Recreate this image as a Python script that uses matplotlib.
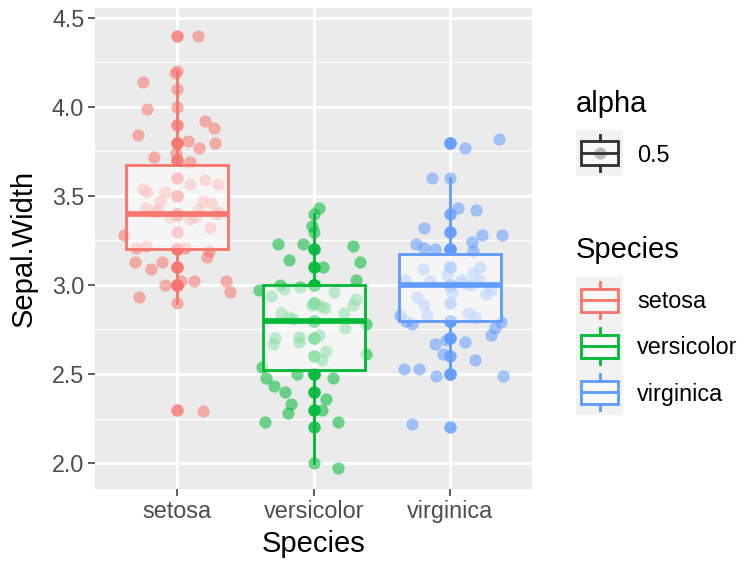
import numpy as np
import matplotlib.pyplot as plt
from matplotlib.patches import Rectangle

plt.rcParams['font.family'] = ['Liberation Sans', 'DejaVu Sans']

species = ['setosa', 'versicolor', 'virginica']
colors = ['#F8766D', '#00BA38', '#619CFF']

# iris Sepal.Width per species
setosa_width = [3.5, 3.0, 3.2, 3.1, 3.6, 3.9, 3.4, 3.4, 2.9, 3.1, 3.7, 3.4, 3.0, 3.0, 4.0, 4.4, 3.9,
                3.5, 3.8, 3.8, 3.4, 3.7, 3.6, 3.3, 3.4, 3.0, 3.4, 3.5, 3.4, 3.2, 3.1, 3.4, 4.1, 4.2,
                3.1, 3.2, 3.5, 3.6, 3.0, 3.4, 3.5, 2.3, 3.2, 3.5, 3.8, 3.0, 3.8, 3.2, 3.7, 3.3]
versicolor_width = [3.2, 3.2, 3.1, 2.3, 2.8, 2.8, 3.3, 2.4, 2.9, 2.7, 2.0, 3.0, 2.2, 2.9, 2.9, 3.1,
                    3.0, 2.7, 2.2, 2.5, 3.2, 2.8, 2.5, 2.8, 2.9, 3.0, 2.8, 3.0, 2.9, 2.6, 2.4, 2.4,
                    2.7, 2.7, 3.0, 3.4, 3.1, 2.3, 3.0, 2.5, 2.6, 3.0, 2.6, 2.3, 2.7, 3.0, 2.9, 2.9,
                    2.5, 2.8]
virginica_width = [3.3, 2.7, 3.0, 2.9, 3.0, 3.0, 2.5, 2.9, 2.5, 3.6, 3.2, 2.7, 3.0, 2.5, 2.8, 3.2,
                   3.0, 3.8, 2.6, 2.2, 3.2, 2.8, 2.8, 2.7, 3.3, 3.2, 2.8, 3.0, 2.8, 3.0, 2.8, 3.8,
                   2.8, 2.8, 2.6, 3.0, 3.4, 3.1, 3.0, 3.1, 3.1, 3.1, 2.7, 3.2, 3.3, 3.0, 2.5, 3.0,
                   3.4, 3.0]

# jittered copies: horizontal offset from the category and jittered value
setosa_dx = [0.15, -0.02, -0.25, -0.22, 0.20, 0.27, -0.29, 0.08, 0.28, 0.16, -0.17, -0.01, 0.09,
             0.09, 0.20, 0.30, -0.25, -0.22, -0.09, -0.13, 0.19, 0.25, -0.23, -0.15, 0.15, 0.30,
             -0.16, 0.00, 0.13, 0.29, -0.05, 0.09, 0.24, -0.39, -0.30, -0.23, 0.06, 0.23, 0.22,
             -0.31, -0.19, -0.11, 0.03, -0.09, 0.12, 0.36, 0.39, -0.28, 0.19]
setosa_dy = [4.40, 4.19, 4.14, 3.99, 3.92, 3.88, 3.84, 3.81, 3.80, 3.77, 3.72, 3.74, 3.69,
             3.57, 3.59, 3.57, 3.54, 3.52, 3.52, 3.47, 3.47, 3.46, 3.43, 3.42, 3.42, 3.41,
             3.41, 3.39, 3.38, 3.40, 3.38, 3.37, 3.32, 3.28, 3.21, 3.22, 3.21, 3.19, 3.16,
             3.13, 3.09, 3.13, 3.02, 3.00, 3.02, 3.02, 2.96, 2.93, 2.29]
versicolor_dx = [0.04, -0.01, -0.26, -0.08, 0.29, -0.18, 0.34, 0.07, 0.31, -0.25, -0.40, -0.31,
                 -0.22, -0.10, 0.15, 0.31, 0.29, -0.01, 0.08, 0.05, -0.24, -0.18, -0.15, 0.22,
                 0.38, -0.28, -0.30, -0.11, -0.11, 0.04, 0.23, 0.09, 0.06, 0.38, -0.38, -0.35,
                 -0.12, 0.14, -0.29, -0.21, 0.09, 0.06, -0.17, -0.19, -0.36, 0.18, 0.18]
versicolor_dy = [3.43, 3.33, 3.23, 3.23, 3.22, 3.14, 3.13, 3.10, 3.03, 3.00, 2.97, 2.94,
                 2.98, 2.99, 2.96, 2.92, 2.89, 2.89, 2.87, 2.88, 2.84, 2.82, 2.81, 2.84,
                 2.78, 2.70, 2.67, 2.71, 2.68, 2.72, 2.76, 2.63, 2.58, 2.61, 2.54, 2.48,
                 2.50, 2.48, 2.43, 2.40, 2.36, 2.30, 2.33, 2.28, 2.23, 2.23, 1.97]
virginica_dx = [0.11, 0.36, -0.13, 0.06, 0.19, -0.19, 0.23, 0.38, -0.25, -0.19, -0.11, 0.16,
                0.17, -0.20, -0.02, 0.22, 0.17, -0.33, -0.15, 0.08, 0.10, 0.15, 0.21, -0.24,
                0.26, 0.30, 0.01, -0.19, -0.37, -0.32, -0.28, -0.17, 0.13, 0.18, 0.37, 0.33,
                0.30, -0.03, -0.11, 0.11, -0.05, 0.18, -0.34, -0.23, -0.10, 0.39, -0.28]
virginica_dy = [3.77, 3.82, 3.60, 3.43, 3.42, 3.32, 3.28, 3.28, 3.23, 3.21, 3.20, 3.24,
                3.19, 3.09, 3.06, 3.10, 3.07, 3.03, 3.02, 3.03, 3.01, 3.00, 3.03, 2.93,
                2.95, 2.97, 2.96, 2.89, 2.83, 2.80, 2.78, 2.83, 2.84, 2.82, 2.79, 2.76,
                2.72, 2.69, 2.67, 2.68, 2.61, 2.58, 2.53, 2.53, 2.49, 2.49, 2.22]

y_ticks = [2.0, 2.5, 3.0, 3.5, 4.0, 4.5]
y_minor = [2.25, 2.75, 3.25, 3.75, 4.25]

values = [setosa_width, versicolor_width, virginica_width]
jitter = [(setosa_dx, setosa_dy), (versicolor_dx, versicolor_dy), (virginica_dx, virginica_dy)]

W, H = 743, 563
PT_SIZE = 78
ALPHA = 0.55
LW = 2.05


def frac(x0, y0, x1, y1):
    return [x0 / W, 1 - y1 / H, (x1 - x0) / W, (y1 - y0) / H]


fig = plt.figure(figsize=(W / 100, H / 100), dpi=100)
ax = fig.add_axes(frac(95.4, 8, 532, 489))
ax.set_facecolor('#EBEBEB')
for sp in ax.spines.values():
    sp.set_visible(False)
ax.set_xlim(0.4, 3.6)
ax.set_ylim(1.854, 4.556)
ax.set_xticks([1, 2, 3])
ax.set_xticklabels(species)
ax.set_yticks(y_ticks)
ax.set_yticklabels([f'{t:.1f}' for t in y_ticks])
ax.set_yticks(y_minor, minor=True)
ax.set_axisbelow(True)
ax.grid(which='major', color='white', lw=LW)
ax.grid(which='minor', axis='y', color='white', lw=1.0)
ax.tick_params(which='major', length=5, width=1.1, color='#333333',
               labelsize=16.8, labelcolor='#4D4D4D', pad=3)
ax.tick_params(which='minor', length=0)

for i, (vals, (dx, dy), col) in enumerate(zip(values, jitter, colors)):
    c = i + 1
    v = np.array(vals)
    ax.scatter(np.full(len(v), c), v, s=PT_SIZE, color=col, alpha=ALPHA,
               linewidths=0, zorder=2)
    ax.scatter(c + np.array(dx), dy, s=PT_SIZE, color=col, alpha=ALPHA,
               linewidths=0, zorder=2)

    q1, med, q3 = np.percentile(v, [25, 50, 75])
    iqr = q3 - q1
    lo = v[v >= q1 - 1.5 * iqr].min()
    hi = v[v <= q3 + 1.5 * iqr].max()
    out = v[(v < lo) | (v > hi)]
    ax.scatter(np.full(len(out), c), out, s=PT_SIZE, color=col, alpha=ALPHA,
               linewidths=0, zorder=2)

    ax.add_patch(Rectangle((c - 0.375, q1), 0.75, q3 - q1, facecolor=(1, 1, 1, ALPHA),
                           edgecolor=col, lw=LW, zorder=3))
    ax.plot([c, c], [q3, hi], color=col, lw=LW, zorder=3)
    ax.plot([c, c], [lo, q1], color=col, lw=LW, zorder=3)
    ax.plot([c - 0.375, c + 0.375], [med, med], color=col, lw=2 * LW,
            solid_capstyle='butt', zorder=4)

fig.text(23.5 / W, 1 - 248.5 / H, 'Sepal.Width', rotation=90, fontsize=21,
         ha='center', va='center')
fig.text(314 / W, 1 - 544 / H, 'Species', fontsize=21, ha='center', va='center')


def legend_key(y0, col, with_point=False):
    kx = fig.add_axes(frac(576, y0, 623, y0 + 46))
    kx.set_xlim(0, 1)
    kx.set_ylim(0, 1)
    kx.set_facecolor('#F2F2F2')
    kx.set_xticks([])
    kx.set_yticks([])
    for sp in kx.spines.values():
        sp.set_visible(False)
    if with_point:
        kx.scatter([0.5], [0.5], s=PT_SIZE, color='black', alpha=ALPHA, linewidths=0, zorder=1)
    kx.add_patch(Rectangle((0.1, 0.25), 0.8, 0.5, facecolor=(1, 1, 1, ALPHA),
                           edgecolor=col, lw=LW, zorder=2))
    kx.plot([0.5, 0.5], [0.75, 0.9], color=col, lw=LW, zorder=2)
    kx.plot([0.5, 0.5], [0.1, 0.25], color=col, lw=LW, zorder=2)
    kx.plot([0.1, 0.9], [0.5, 0.5], color=col, lw=LW, zorder=3)


fig.text(576 / W, 1 - 104 / H, 'alpha', fontsize=21, ha='left', va='center')
legend_key(130, '#333333', with_point=True)
fig.text(637 / W, 1 - 156 / H, '0.5', fontsize=16.8, ha='left', va='center')

fig.text(576 / W, 1 - 250 / H, 'Species', fontsize=21, ha='left', va='center')
for k, (name, col) in enumerate(zip(species, colors)):
    top = 277 + 46 * k
    legend_key(top, col)
    fig.text(637 / W, 1 - (top + 25) / H, name, fontsize=16.8, ha='left', va='center')

fig.savefig('out.png', dpi=100)
